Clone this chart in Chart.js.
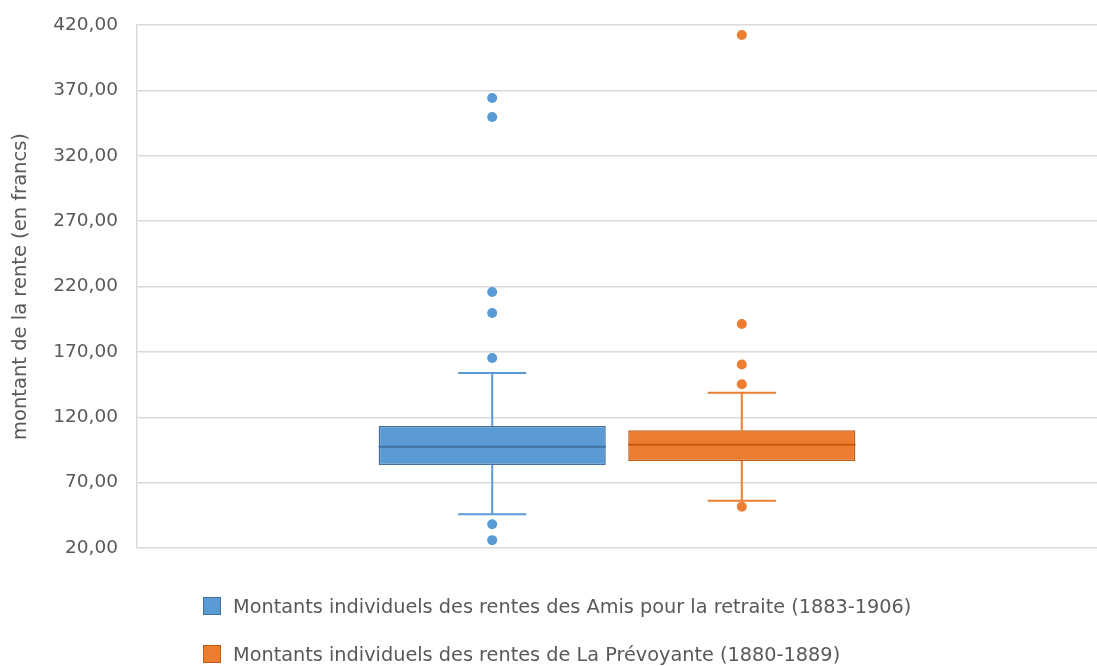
<!DOCTYPE html>
<html>
<head>
<meta charset="utf-8">
<script src="https://cdn.jsdelivr.net/npm/chart.js@4.4.0/dist/chart.umd.min.js"></script>
<style>
  body { margin: 0; background: #fff; }
  #wrap { position: relative; width: 1097px; height: 666px; }
  #legend { position: absolute; left: 203px; top: 582px; font-family: "DejaVu Sans", sans-serif; font-size: 19.3px; color: #595959; }
  #legend .item { display: flex; align-items: center; height: 48px; }
  #legend .sw { width: 18px; height: 18px; margin-right: 12px; box-sizing: border-box; }
</style>
</head>
<body>
<div id="wrap">
  <canvas id="myChart" width="1097" height="666"></canvas>
  <div id="legend"></div>
</div>
<script>
// données
var seriesNames = [
  "Montants individuels des rentes des Amis pour la retraite (1883-1906)",
  "Montants individuels des rentes de La Prévoyante (1880-1889)"
];
var lowWhisker = [45.8, 56.2];
var q1 = [83.5, 86.5];
var median = [97.5, 99.0];
var q3 = [113.3, 110.0];
var highWhisker = [153.8, 138.8];
var amisOutliers = [26.0, 38.2, 165.3, 199.7, 215.8, 349.6, 364.2];
var prevoyanteOutliers = [51.6, 145.2, 160.3, 191.3, 412.4];
var outliers = [amisOutliers, prevoyanteOutliers];
var yTicks = [20, 70, 120, 170, 220, 270, 320, 370, 420];

var fills = ["#5b9bd5", "#ed7d31"];
var borders = ["#41719c", "#c55a11"];
var whiskerColors = ["#5b9bd5", "#ed7d31"];

/* moustaches, médianes et points atypiques */
var boxPlugin = {
  id: "boxWhiskers",
  afterDatasetsDraw: function (chart) {
    var y = chart.scales.y;
    var c = chart.ctx;
    chart.data.datasets.forEach(function (ds, i) {
      var bar = chart.getDatasetMeta(i).data[0];
      var x = bar.x;
      var half = bar.width / 2;
      var cap = bar.width * 0.15;
      c.save();
      c.strokeStyle = whiskerColors[i];
      c.lineWidth = 2;
      c.beginPath();
      c.moveTo(x, y.getPixelForValue(q3[i]));
      c.lineTo(x, y.getPixelForValue(highWhisker[i]));
      c.moveTo(x - cap, y.getPixelForValue(highWhisker[i]));
      c.lineTo(x + cap, y.getPixelForValue(highWhisker[i]));
      c.moveTo(x, y.getPixelForValue(q1[i]));
      c.lineTo(x, y.getPixelForValue(lowWhisker[i]));
      c.moveTo(x - cap, y.getPixelForValue(lowWhisker[i]));
      c.lineTo(x + cap, y.getPixelForValue(lowWhisker[i]));
      c.stroke();
      // médiane
      c.strokeStyle = borders[i];
      c.beginPath();
      c.moveTo(x - half, y.getPixelForValue(median[i]));
      c.lineTo(x + half, y.getPixelForValue(median[i]));
      c.stroke();
      // points atypiques
      c.fillStyle = fills[i];
      outliers[i].forEach(function (v) {
        c.beginPath();
        c.arc(x, y.getPixelForValue(v), 5, 0, Math.PI * 2);
        c.fill();
      });
      c.restore();
    });
  }
};

var ctx = document.getElementById("myChart");
var chart = new Chart(ctx, {
  type: "bar",
  data: {
    labels: [""],
    datasets: seriesNames.map(function (name, i) {
      return {
        label: name,
        data: [[q1[i], q3[i]]],
        backgroundColor: fills[i],
        borderColor: borders[i],
        borderWidth: 1.5,
        borderSkipped: false,
        barPercentage: 0.91,
        categoryPercentage: 0.52
      };
    })
  },
  options: {
    responsive: false,
    animation: false,
    layout: { padding: { top: 25, right: 0, bottom: 118, left: 0 } },
    plugins: { legend: { display: false }, tooltip: { enabled: false } },
    scales: {
      x: { display: false },
      y: {
        min: 20,
        max: 420,
        afterBuildTicks: function (scale) {
          scale.ticks = yTicks.map(function (v) { return { value: v }; });
        },
        afterFit: function (scale) {
          // zone de tracé fixe : 137 px à gauche, marges fixées par layout.padding
          scale.width = 137;
          scale.paddingTop = 0;
          scale.paddingBottom = 0;
        },
        grid: { color: "#d9d9d9", lineWidth: 1.5, drawTicks: false },
        border: { color: "#d9d9d9", width: 1.5 },
        ticks: {
          padding: 19,
          color: "#595959",
          font: { family: "DejaVu Sans", size: 18.5 },
          callback: function (v) { return v.toFixed(2).replace(".", ","); }
        },
        title: {
          display: true,
          text: "montant de la rente (en francs)",
          color: "#595959",
          font: { family: "DejaVu Sans", size: 19.5 },
          padding: { top: 9, bottom: 0 }
        }
      }
    }
  },
  plugins: [boxPlugin]
});

// légende sur deux lignes, alignée à gauche
var legend = document.getElementById("legend");
seriesNames.forEach(function (name, i) {
  var item = document.createElement("div");
  item.className = "item";
  var sw = document.createElement("span");
  sw.className = "sw";
  sw.style.background = fills[i];
  sw.style.border = "1px solid " + borders[i];
  var txt = document.createElement("span");
  txt.textContent = name;
  item.appendChild(sw);
  item.appendChild(txt);
  legend.appendChild(item);
});
</script>
</body>
</html>
